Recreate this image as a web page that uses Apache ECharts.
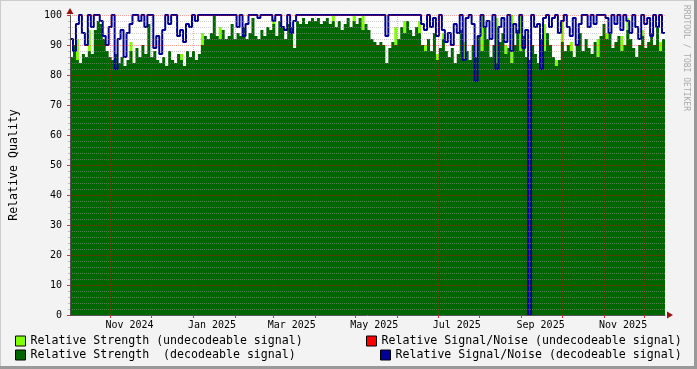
<!DOCTYPE html>
<html><head><meta charset="utf-8">
<script src="https://cdn.jsdelivr.net/npm/echarts@6/dist/echarts.min.js"></script>
<style>html,body{margin:0;padding:0;background:#f3f3f3}#c{width:697px;height:369px}</style>
</head><body><div id="c"></div>
<script>
// ---- data (one sample every 2.2 days starting 2024-10-02) ----
const startDay = '2024-10-02';
const endDay = '2025-12-16';
const stepDays = 2.2;
const tickMonths = ['2024-11','2024-12','2025-01','2025-02','2025-03','2025-04','2025-05','2025-06','2025-07','2025-08','2025-09','2025-10','2025-11','2025-12'];
const labelMonths = ['2024-11','2025-01','2025-03','2025-05','2025-07','2025-09','2025-11'];
const yTicks = [0,10,20,30,40,50,60,70,80,90,100];

const strengthDecodable = [
 86,90,85,84,87,86,88,87,95,98,
 97,92,88,86,85,87,84,86,83,85,
 88,84,89,86,90,87,97,86,88,85,
 84,86,83,88,85,84,87,85,83,88,
 86,88,85,87,90,93,92,94,100,93,
 92,95,92,93,97,92,94,93,96,92,
 94,99,93,92,95,93,96,95,97,93,
 98,96,92,97,96,89,98,97,99,97,
 98,99,98,99,97,98,99,97,98,96,
 98,95,97,99,96,98,97,99,95,97,
 95,92,91,90,91,90,84,89,91,90,
 92,96,94,98,95,93,96,94,90,88,
 92,88,94,85,89,92,88,86,89,84,
 87,95,85,88,85,90,86,93,88,96,
 92,86,90,84,91,94,87,89,84,90,
 95,88,93,86,85,90,87,84,92,88,
 94,90,86,83,85,91,88,90,88,86,
 90,94,88,92,89,87,91,86,93,97,
 92,94,89,91,93,88,90,95,92,89,
 86,90,93,89,91,94,90,96,88,92
];
const strengthUndecodable = [
 0,0,92,0,0,0,95,0,0,0,
 0,0,0,0,0,0,0,0,0,0,
 91,0,0,0,0,0,0,0,0,0,
 0,0,0,0,0,0,0,87,0,0,
 0,0,0,0,94,0,0,0,0,0,
 96,0,0,0,0,0,0,0,96,0,
 0,0,0,0,0,0,0,0,99,0,
 0,0,0,0,0,0,0,0,0,0,
 0,0,0,0,0,0,0,0,100,0,
 0,0,0,0,0,100,0,0,100,0,
 0,0,0,0,0,0,0,0,0,96,
 0,0,98,0,0,0,0,98,0,90,
 0,0,0,87,0,94,0,0,0,0,
 0,0,91,0,0,0,0,0,100,0,
 0,0,0,99,0,0,90,0,100,0,
 0,100,0,0,0,0,0,0,0,97,
 0,0,0,85,0,98,0,0,91,0,
 0,0,0,0,0,0,0,92,0,0,
 94,0,0,0,0,93,0,99,0,0,
 0,0,95,0,0,0,0,0,91,0
];
const snrUndecodable = [];
const snrDecodable = [
 92,88,97,100,94,90,100,96,100,100,
 98,93,90,96,100,82,92,95,86,94,
 97,100,100,98,100,96,100,100,89,93,
 87,95,100,97,100,100,93,95,91,97,
 96,100,98,100,100,100,100,100,100,100,
 100,100,100,100,100,100,96,100,93,97,
 100,100,100,99,100,100,100,100,98,100,
 100,96,95,100,94,98,100,100,100,100,
 100,100,100,100,100,100,100,100,100,100,
 100,100,100,100,100,100,100,100,100,100,
 100,100,100,100,100,100,93,100,100,100,
 100,100,100,100,100,100,100,100,97,95,
 100,96,99,93,100,95,91,94,90,97,
 94,100,85,99,100,97,78,93,100,96,
 98,92,100,82,96,99,91,100,88,97,
 94,100,89,95,0,100,96,97,82,99,
 100,96,99,100,94,98,100,96,93,99,
 90,97,100,100,96,100,97,100,100,100,
 99,94,100,97,100,95,100,98,94,100,
 96,92,100,97,99,93,100,96,100,94
];

// ---- helpers ----
const DAY = 86400000;
const toTs = s => { const p = s.split('-').map(Number); return Date.UTC(p[0], p[1]-1, p[2] || 1); };
const t0 = toTs(startDay), t1 = toTs(endDay);
const monthMid = s => toTs(s) + 14 * DAY;
const MON = ['Jan','Feb','Mar','Apr','May','Jun','Jul','Aug','Sep','Oct','Nov','Dec'];
function toSeries(vals){
  const d = vals.map((v,i)=>[t0 + i*stepDays*DAY, v]);
  if (vals.length) d.push([t1, vals[vals.length-1]]);
  return d;
}
const mono = 'DejaVu Sans Mono';
const names = ['Relative Strength (undecodeable signal)','Relative Strength  (decodeable signal)','Relative Signal/Noise (undecodeable signal)','Relative Signal/Noise (decodeable signal)'];
const colors = ['#80ff00','#006600','#ff0000','#000099'];

const chart = echarts.init(document.getElementById('c'), null, {renderer:'canvas'});
const legendBase = {orient:'horizontal', padding:0, itemWidth:10, itemHeight:10, icon:'rect',
  itemStyle:{borderColor:'#000', borderWidth:1},
  textStyle:{fontFamily:mono, fontSize:11.6, color:'#000'}, selectedMode:false};
chart.setOption({
  animation:false,
  backgroundColor:'#f3f3f3',
  grid:{left:67, top:15, right:32, bottom:54, show:true, backgroundColor:'#ffffff', borderWidth:0},
  xAxis:[{
    type:'value', min:t0, max:t1, position:'bottom', z:10,
    axisLine:{show:true, lineStyle:{color:'#555555', width:1}},
    axisTick:{show:true, customValues: tickMonths.map(toTs), length:3, lineStyle:{color:'#cc3333'}},
    axisLabel:{customValues: labelMonths.map(monthMid), margin:5, fontFamily:mono, fontSize:10, color:'#000',
      formatter: v => { const d = new Date(v); return MON[d.getUTCMonth()] + ' ' + d.getUTCFullYear(); }},
    splitLine:{show:true, lineStyle:{color:'rgba(255,0,0,0.35)', type:[1,1], width:1}}
  },{
    type:'value', min:t0, max:t1, position:'bottom', z:11,
    axisLine:{show:true, symbol:['none','triangle'], symbolSize:[7,6], symbolOffset:[0,5], lineStyle:{color:'#991111', width:0}},
    axisTick:{show:false}, axisLabel:{show:false}, splitLine:{show:false}
  }],
  yAxis:[{
    type:'value', min:0, max:100, interval:10, z:10,
    axisLine:{show:true, lineStyle:{color:'#555555', width:1}},
    axisTick:{show:true, length:3, lineStyle:{color:'#cc3333'}},
    minorTick:{show:true, splitNumber:5, length:2, lineStyle:{color:'#bbbbbb'}},
    axisLabel:{margin:8, fontFamily:mono, fontSize:10, color:'#000', customValues:yTicks},
    splitLine:{show:true, lineStyle:{color:'rgba(255,0,0,0.35)', type:[1,1], width:1}},
    minorSplitLine:{show:true, lineStyle:{color:'rgba(160,160,160,0.5)', type:[1,1], width:1}},
    name:'Relative Quality', nameLocation:'middle', nameGap:50, nameRotate:90,
    nameTextStyle:{fontFamily:mono, fontSize:11.6, color:'#000'}
  },{
    type:'value', min:0, max:100, position:'left', z:11,
    axisLine:{show:true, symbol:['none','triangle'], symbolSize:[7,6], symbolOffset:[0,4], lineStyle:{color:'#991111', width:0}},
    axisTick:{show:false}, axisLabel:{show:false}, splitLine:{show:false}
  }],
  legend:[
    Object.assign({}, legendBase, {left:15, top:335, data:[names[0]]}),
    Object.assign({}, legendBase, {left:15, top:349, data:[names[1]]}),
    Object.assign({}, legendBase, {left:366, top:335, data:[names[2]]}),
    Object.assign({}, legendBase, {left:380, top:349, data:[names[3]]})
  ],
  series:[
    {name:names[0], type:'line', step:'end', showSymbol:false, symbol:'none', z:2, color:colors[0],
      lineStyle:{width:0}, areaStyle:{color:colors[0], opacity:1}, data:toSeries(strengthUndecodable)},
    {name:names[1], type:'line', step:'end', showSymbol:false, symbol:'none', z:3, color:colors[1],
      lineStyle:{width:0}, areaStyle:{color:colors[1], opacity:1}, data:toSeries(strengthDecodable)},
    {name:names[2], type:'line', step:'end', showSymbol:false, symbol:'none', z:4, color:colors[2],
      lineStyle:{width:1.5}, data:toSeries(snrUndecodable)},
    {name:names[3], type:'line', step:'end', showSymbol:false, symbol:'none', z:5, color:colors[3], clip:false,
      lineStyle:{width:2, color:colors[3]}, data:toSeries(snrDecodable)}
  ],
  graphic:[
    {type:'text', x:686, y:5, rotation:-Math.PI/2, silent:true,
      style:{text:'RRDTOOL / TOBI OETIKER', fill:'#aaaaaa', font:'8px "DejaVu Sans Mono"', align:'left', verticalAlign:'middle'}},
    {type:'line', silent:true, shape:{x1:0.5, y1:0, x2:0.5, y2:369}, style:{stroke:'#cbcbcb', lineWidth:1}},
    {type:'line', silent:true, shape:{x1:0, y1:0.5, x2:697, y2:0.5}, style:{stroke:'#cbcbcb', lineWidth:1}},
    {type:'line', silent:true, shape:{x1:695.5, y1:0, x2:695.5, y2:369}, style:{stroke:'#999999', lineWidth:3}},
    {type:'line', silent:true, shape:{x1:0, y1:367.5, x2:697, y2:367.5}, style:{stroke:'#999999', lineWidth:3}}
  ]
});
</script></body></html>
